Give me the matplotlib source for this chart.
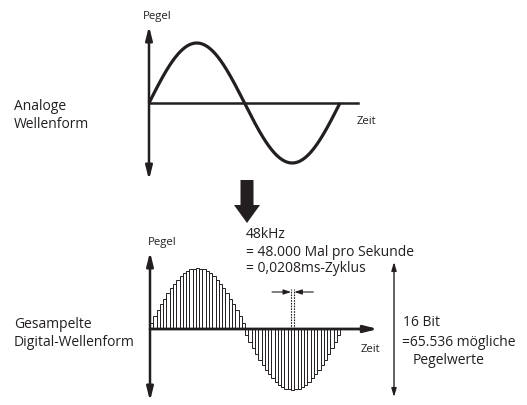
import numpy as np
import matplotlib
matplotlib.use("Agg")
import matplotlib.pyplot as plt

# ---------------- data ----------------
analog_cycles = 1.0                      # one full cycle of the analog wave
# sampled levels (relative amplitude) read from the picture, 29 per half-cycle
pos_half = [0.10, 0.21, 0.31, 0.41, 0.50, 0.59, 0.67, 0.74, 0.81, 0.87,
            0.91, 0.95, 0.98, 0.99, 1.00, 0.99, 0.98, 0.95, 0.91, 0.87,
            0.81, 0.74, 0.67, 0.59, 0.50, 0.41, 0.31, 0.21, 0.10]
neg_half = [-0.10, -0.21, -0.31, -0.41, -0.50, -0.59, -0.67, -0.74, -0.81, -0.87,
            -0.91, -0.95, -0.98, -0.99, -1.00, -0.99, -0.98, -0.95, -0.91, -0.87,
            -0.81, -0.74, -0.67, -0.59, -0.50, -0.41, -0.31, -0.21, -0.10]
sample_levels = pos_half + neg_half
marked_sample = 43                       # sample whose width is marked

label_level = "Pegel"
label_time = "Zeit"
label_analog = ["Analoge", "Wellenform"]
label_digital = ["Gesampelte", "Digital-Wellenform"]
label_rate = ["48kHz", "= 48.000 Mal pro Sekunde", "= 0,0208ms-Zyklus"]
label_bits = ["16 Bit", "=65.536 mögliche", "Pegelwerte"]

# ---------------- layout ----------------
W, H = 527, 405
INK = "#231f20"
plt.rcParams['font.family'] = ['Open Sans', 'DejaVu Sans']

fig = plt.figure(figsize=(W / 100, H / 100), dpi=100)

def px_axes(left, right, top, bottom):
    return fig.add_axes([left / W, 1 - bottom / H, (right - left) / W, (bottom - top) / H])

# overlay in pixel units for annotations
ov = px_axes(0, W, 0, H)
ov.set_xlim(0, W)
ov.set_ylim(H, 0)
ov.axis("off")

# ---- top: analog waveform ----
period_px, amp_px = 191.0, 60.0
x0, y0 = 149.0, 103.0
top_l, top_r, top_t, top_b = 140, 365, 18, 186
axa = px_axes(top_l, top_r, top_t, top_b)
axa.set_xlim((top_l - x0) / period_px, (top_r - x0) / period_px)
axa.set_ylim(-(top_b - y0) / amp_px, (y0 - top_t) / amp_px)
axa.axis("off")
axa.patch.set_alpha(0)
t = np.linspace(0, analog_cycles, 400)
axa.plot(t, np.sin(2 * np.pi * t), color=INK, lw=2.3, solid_capstyle="butt")
axa.plot([0, (358 - x0) / period_px], [0, 0], color=INK, lw=1.8)
axa.annotate("", xy=(0, (y0 - 26) / amp_px), xytext=(0, -(180 - y0) / amp_px),
             arrowprops=dict(arrowstyle="<|-|>,head_length=0.8,head_width=0.2",
                             color=INK, lw=1.8, shrinkA=0, shrinkB=0))

# ---- bottom: sampled waveform ----
spx, bamp = 3.28, 61.0
bx0, by0 = 150.0, 329.0
bot_l, bot_r, bot_t, bot_b = 140, 385, 228, 405
axd = px_axes(bot_l, bot_r, bot_t, bot_b)
axd.set_xlim((bot_l - bx0) / spx, (bot_r - bx0) / spx)
axd.set_ylim(-(bot_b - by0) / bamp, (by0 - bot_t) / bamp)
axd.axis("off")
axd.patch.set_alpha(0)
idx = np.arange(len(sample_levels))
axd.bar(idx, sample_levels, width=1.0, align="edge", facecolor="white",
        edgecolor=INK, linewidth=0.7, zorder=2)
axd.annotate("", xy=((378 - bx0) / spx, 0), xytext=(0, 0),
             arrowprops=dict(arrowstyle="-|>,head_length=0.8,head_width=0.2",
                             color=INK, lw=2.0, shrinkA=0, shrinkB=0), zorder=3)
axd.annotate("", xy=(0, (by0 - 252) / bamp), xytext=(0, -(401 - by0) / bamp),
             arrowprops=dict(arrowstyle="<|-|>,head_length=0.8,head_width=0.2",
                             color=INK, lw=1.8, shrinkA=0, shrinkB=0), zorder=3)
# sample-width marker
top_lvl = (by0 - 289) / bamp
arr_lvl = (by0 - 292) / bamp
for xs in (marked_sample, marked_sample + 1):
    axd.plot([xs, xs], [0, top_lvl], color=INK, lw=0.8, ls=(0, (1.5, 1.0)), zorder=3)
axd.annotate("", xy=(marked_sample, arr_lvl), xytext=(marked_sample - 5.8, arr_lvl),
             arrowprops=dict(arrowstyle="-|>,head_length=0.45,head_width=0.15",
                             color=INK, lw=0.8, shrinkA=0, shrinkB=0))
axd.annotate("", xy=(marked_sample + 1, arr_lvl), xytext=(marked_sample + 6.8, arr_lvl),
             arrowprops=dict(arrowstyle="-|>,head_length=0.45,head_width=0.15",
                             color=INK, lw=0.8, shrinkA=0, shrinkB=0))

# bit depth double arrow
ov.annotate("", xy=(394, 262), xytext=(394, 397),
            arrowprops=dict(arrowstyle="<|-|>,head_length=0.5,head_width=0.15",
                            color=INK, lw=1.0, shrinkA=0, shrinkB=0))

# big down arrow
ov.arrow(247, 180, 0, 43, width=13, head_width=26, head_length=18,
         length_includes_head=True, color=INK, lw=0)

# ---- texts ----
fs_small, fs_main = 8.2, 10.0
ov.text(157, 16, label_level, fontsize=fs_small, color=INK, ha="center", va="center")
ov.text(357, 122, label_time, fontsize=fs_small, color=INK, ha="left", va="center")
ov.text(162, 242, label_level, fontsize=fs_small, color=INK, ha="center", va="center")
ov.text(370, 349, label_time, fontsize=fs_small, color=INK, ha="center", va="center")
for s, y in zip(label_analog, (107, 124)):
    ov.text(14, y, s, fontsize=fs_main, color=INK, ha="left", va="center")
for s, y in zip(label_digital, (324, 342)):
    ov.text(14, y, s, fontsize=fs_main, color=INK, ha="left", va="center")
for s, y in zip(label_rate, (235, 252, 269)):
    ov.text(246, y, s, fontsize=fs_main, color=INK, ha="left", va="center")
for s, x, y in zip(label_bits, (403, 402, 413), (323, 342, 360)):
    ov.text(x, y, s, fontsize=fs_main, color=INK, ha="left", va="center")

fig.savefig("out.png", dpi=100)
